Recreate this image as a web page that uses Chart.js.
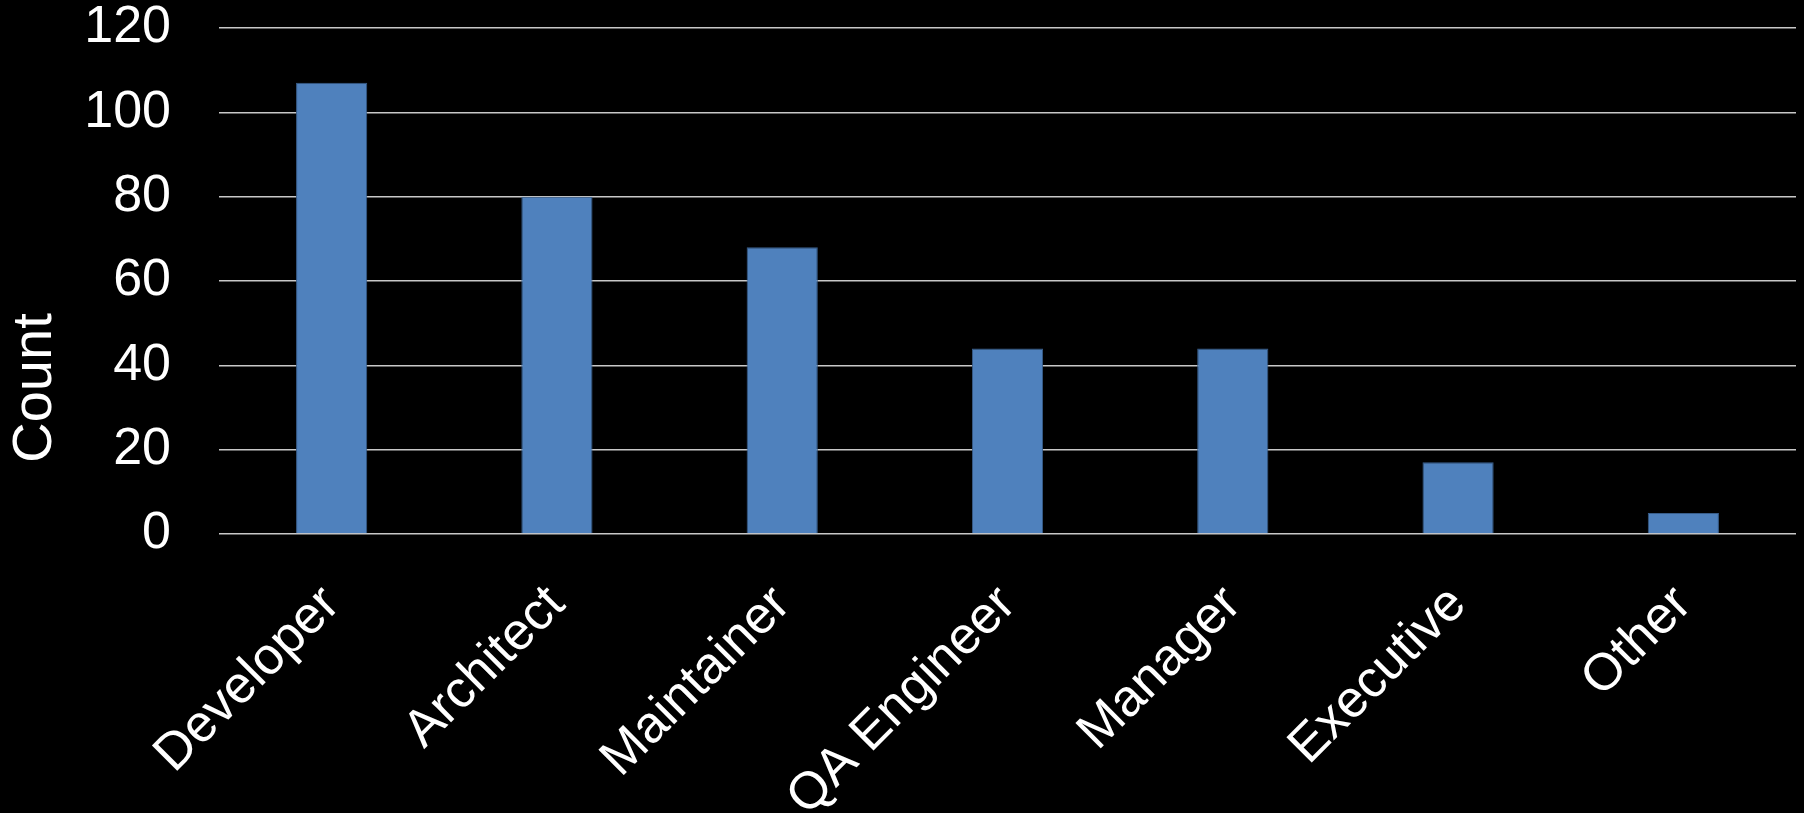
<!DOCTYPE html>
<html>
<head>
<meta charset="utf-8">
<script src="https://cdn.jsdelivr.net/npm/chart.js@4.4.1/dist/chart.umd.min.js"></script>
<style>
  body { margin: 0; background: #000; }
  #wrap { width: 1804px; height: 813px; position: relative; }
</style>
</head>
<body>
<div id="wrap"><canvas id="bars"></canvas></div>
<script>
const roles = ['Developer', 'Architect', 'Maintainer', 'QA Engineer', 'Manager', 'Executive', 'Other'];
const counts = [107, 80, 68, 44, 44, 17, 5];
const yTicks = [0, 20, 40, 60, 80, 100, 120];
const yTitle = 'Count';

const fontFam = '"Liberation Sans", Arial, sans-serif';

// draw the y title by hand, it sits lower than the plot centre in the original
const countTitle = {
  id: 'countTitle',
  afterDraw(chart) {
    const c = chart.ctx;
    c.save();
    c.translate(36, 388);
    c.rotate(-Math.PI / 2);
    c.fillStyle = '#fff';
    c.font = '56px ' + fontFam;
    c.textAlign = 'center';
    c.textBaseline = 'middle';
    c.fillText(yTitle, 0, 0);
    c.restore();
  }
};

const ctx = document.getElementById('bars').getContext('2d');

new Chart(ctx, {
  type: 'bar',
  data: {
    labels: roles,
    datasets: [{
      label: yTitle,
      data: counts,
      backgroundColor: '#4f81bd',
      borderColor: '#385d8a',
      borderWidth: 1,
      barPercentage: 0.316,
      categoryPercentage: 1
    }]
  },
  options: {
    responsive: true,
    maintainAspectRatio: false,
    animation: false,
    layout: { padding: { top: 0, right: 8, left: 0, bottom: 0 } },
    plugins: {
      legend: { display: false },
      tooltip: { enabled: false }
    },
    scales: {
      x: {
        grid: { display: false },
        border: { display: false },
        ticks: {
          color: '#fff',
          font: { family: fontFam, size: 52 },
          minRotation: 45,
          maxRotation: 45,
          padding: 32,
          autoSkip: false
        },
        afterFit(scale) { scale.height = 279; }
      },
      y: {
        min: 0,
        max: 120,
        afterBuildTicks(scale) { scale.ticks = yTicks.map(v => ({ value: v })); },
        grid: { color: '#c8c8c8', lineWidth: 1.5, drawTicks: false },
        border: { display: false },
        ticks: {
          color: '#fff',
          font: { family: fontFam, size: 52 },
          padding: 48
        },
        afterFit(scale) {
          scale.width = 219;
          // tick padding is added to the top gap too, keep only half a label
          scale.paddingTop = 28;
        }
      }
    }
  },
  plugins: [countTitle]
});
</script>
</body>
</html>
